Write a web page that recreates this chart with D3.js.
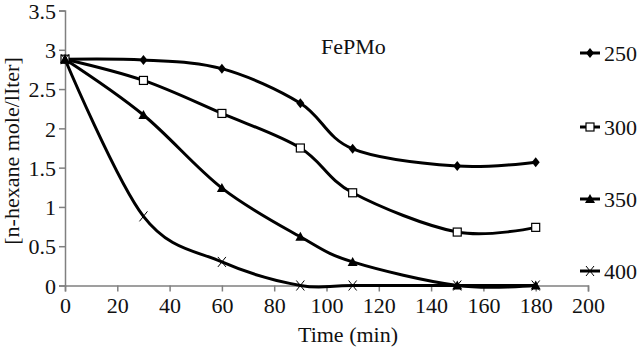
<!DOCTYPE html>
<html>
<head>
<meta charset="utf-8">
<script src="https://cdn.jsdelivr.net/npm/d3@7"></script>
<style>
  body { margin: 0; background: #fff; }
  svg text { font-family: "Liberation Serif", "Times New Roman", serif; fill: #111; }
</style>
</head>
<body>
<div id="chart"></div>
<script>
// time points (min)
const times = [0, 30, 60, 90, 110, 150, 180];
// series labels
const seriesNames = ['250', '300', '350', '400'];
// n-hexane concentration per series
const s250 = [2.88, 2.87, 2.76, 2.32, 1.74, 1.52, 1.57];
const s300 = [2.88, 2.61, 2.19, 1.75, 1.18, 0.68, 0.74];
const s350 = [2.88, 2.17, 1.24, 0.62, 0.30, 0.00, 0.00];
const s400 = [2.88, 0.88, 0.30, 0.00, 0.00, 0.00, 0.00];
const xTicks = [0, 20, 40, 60, 80, 100, 120, 140, 160, 180, 200];
const yTicks = [0, 0.5, 1, 1.5, 2, 2.5, 3, 3.5];

const width = 640, height = 351;
const svg = d3.select('#chart').append('svg')
    .attr('width', width)
    .attr('height', height);

const x = d3.scaleLinear().domain([0, 200]).range([65, 588]);
const y = d3.scaleLinear().domain([0, 3.5]).range([285.5, 10.5]);

const series = [
    { name: seriesNames[0], values: s250, marker: 'diamond' },
    { name: seriesNames[1], values: s300, marker: 'square' },
    { name: seriesNames[2], values: s350, marker: 'triangle' },
    { name: seriesNames[3], values: s400, marker: 'cross' }
];

// axes
const xAxis = svg.append('g')
    .attr('transform', `translate(0,${y(0)})`)
    .call(d3.axisBottom(x).tickValues(xTicks).tickSize(6).tickPadding(6));
const yAxis = svg.append('g')
    .attr('transform', `translate(${x(0)},0)`)
    .call(d3.axisLeft(y).tickValues(yTicks).tickSize(6).tickPadding(3)
        .tickFormat(d => String(d)));

[xAxis, yAxis].forEach(g => {
    g.selectAll('path, line').attr('stroke', '#808080').attr('stroke-width', 1.5);
    g.selectAll('text').style('font-size', '22px').attr('fill', '#111')
        .style('font-family', '"Liberation Serif", serif');
});
yAxis.selectAll('text').attr('dy', '0.35em');

// lines (smoothed like the original)
const line = d3.line()
    .x((d, i) => x(times[i]))
    .y(d => y(d))
    .curve(d3.curveCatmullRom.alpha(0));

svg.append('g').selectAll('path')
    .data(series)
    .enter()
    .append('path')
    .attr('d', d => line(d.values))
    .attr('fill', 'none')
    .attr('stroke', '#000')
    .attr('stroke-width', 3);

function drawMarker(g, type, cx, cy) {
    if (type === 'diamond') {
        g.append('path')
            .attr('d', `M${cx},${cy - 5}L${cx + 4},${cy}L${cx},${cy + 5}L${cx - 4},${cy}Z`)
            .attr('fill', '#000');
    } else if (type === 'square') {
        g.append('rect')
            .attr('x', cx - 4).attr('y', cy - 4)
            .attr('width', 8).attr('height', 8)
            .attr('fill', '#fff').attr('stroke', '#000').attr('stroke-width', 1.2);
    } else if (type === 'triangle') {
        g.append('path')
            .attr('d', `M${cx},${cy - 5}L${cx + 5},${cy + 4}L${cx - 5},${cy + 4}Z`)
            .attr('fill', '#000');
    } else {
        g.append('path')
            .attr('d', `M${cx - 4},${cy - 5}L${cx + 4},${cy + 5}M${cx - 4},${cy + 5}L${cx + 4},${cy - 5}`)
            .attr('stroke', '#000').attr('stroke-width', 1);
    }
}

// markers
series.forEach(s => {
    const g = svg.append('g');
    s.values.forEach((v, i) => drawMarker(g, s.marker, x(times[i]), y(v)));
});

// legend
const legendY = [53, 127, 199, 271];
series.forEach((s, i) => {
    const g = svg.append('g');
    g.append('line')
        .attr('x1', 580).attr('x2', 600)
        .attr('y1', legendY[i]).attr('y2', legendY[i])
        .attr('stroke', '#000').attr('stroke-width', 3);
    drawMarker(g, s.marker, 590, legendY[i]);
    g.append('text')
        .attr('x', 604).attr('y', legendY[i])
        .attr('dy', '0.35em')
        .style('font-size', '22px')
        .text(s.name);
});

// annotation
svg.append('text')
    .attr('x', 321).attr('y', 54)
    .style('font-size', '22px')
    .text('FePMo');

// axis titles
svg.append('text')
    .attr('x', 348).attr('y', 342)
    .attr('text-anchor', 'middle')
    .style('font-size', '22px')
    .text('Time (min)');

svg.append('text')
    .attr('transform', `translate(19,151) rotate(-90)`)
    .attr('text-anchor', 'middle')
    .style('font-size', '22px')
    .text('[n-hexane mole/lIter]');
</script>
</body>
</html>
